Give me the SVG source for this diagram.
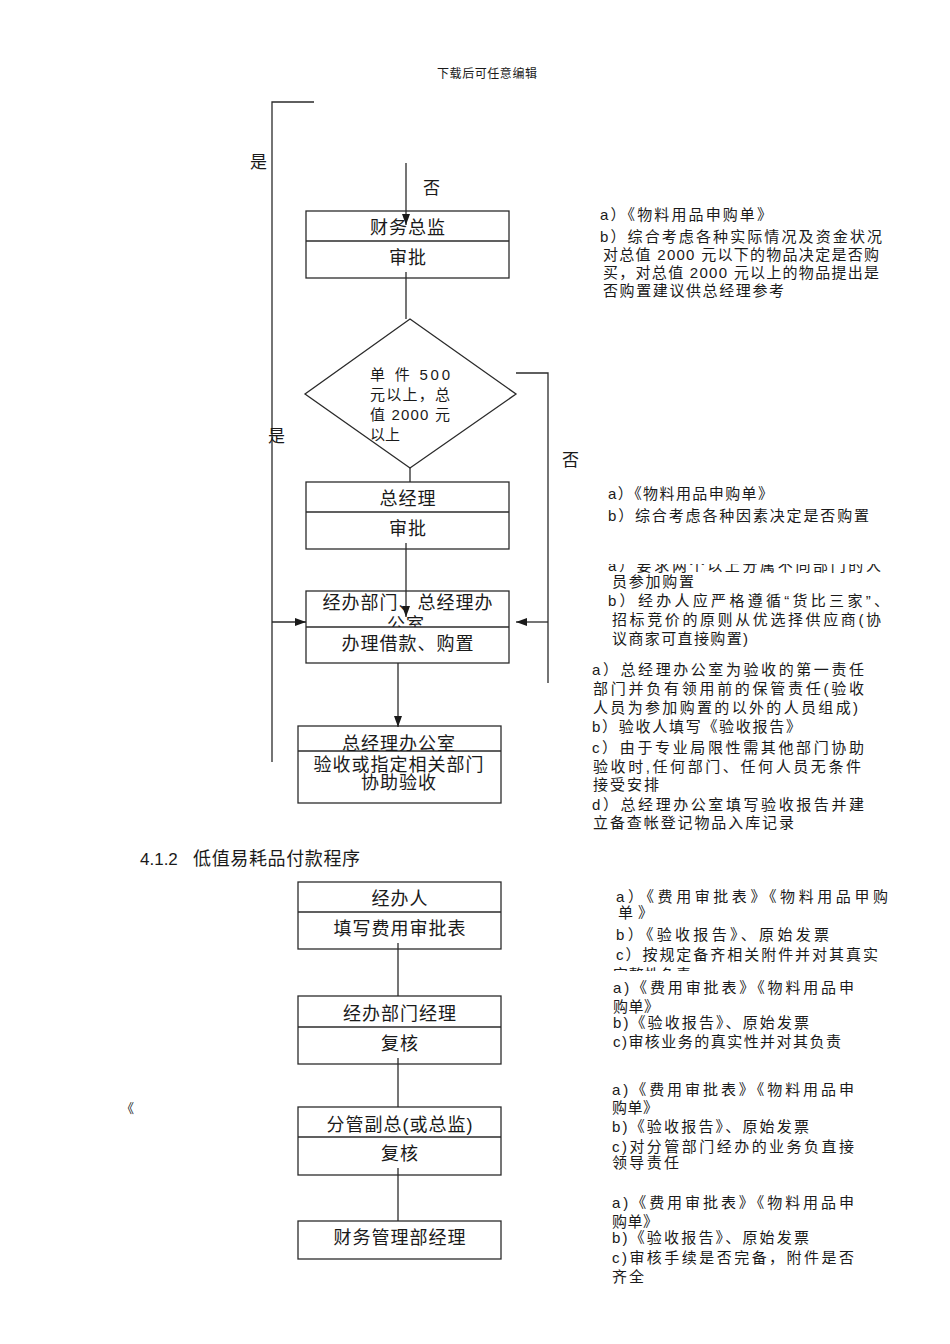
<svg xmlns="http://www.w3.org/2000/svg" width="950" height="1344" viewBox="0 0 950 1344">
<style>
.box{fill:#fff;stroke:#2b2b2b;stroke-width:1.3}
.ln{fill:none;stroke:#2b2b2b;stroke-width:1.3}
text{font-family:"Liberation Sans","Noto Sans CJK SC",sans-serif;fill:#1a1a1a}
.bl{font-size:18px;text-anchor:middle;letter-spacing:1px}
.an{font-size:15px}
.lb{font-size:17px}
</style>
<defs>
<marker id="ah" markerUnits="userSpaceOnUse" markerWidth="11" markerHeight="8" refX="11" refY="4" orient="auto">
<path d="M0,0 L11,4 L0,8 z" fill="#1a1a1a"/>
</marker>
<clipPath id="c3"><rect x="300" y="592" width="215" height="35"/></clipPath>
<clipPath id="c4"><rect x="292" y="727" width="215" height="24"/></clipPath>
<clipPath id="cA"><rect x="590" y="564" width="320" height="30"/></clipPath>
<clipPath id="cE"><rect x="590" y="960" width="320" height="11"/></clipPath>
</defs>
<rect width="950" height="1344" fill="#fff"/>
<text x="437" y="78" font-size="12" textLength="100" lengthAdjust="spacing">下载后可任意编辑</text>

<g id="n-cfo">
<rect class="box" x="306" y="211" width="203" height="67"/>
<line class="ln" x1="306" y1="241" x2="509" y2="241"/>
<text class="bl" x="408" y="234">财务总监</text>
<text class="bl" x="408" y="264">审批</text>
</g>

<g id="n-decision">
<polygon class="box" points="410,319 516,394 410,468 305,394"/>
<text class="an" x="370" y="380" textLength="80" lengthAdjust="spacing">单 件 500</text>
<text class="an" x="370" y="400" textLength="80" lengthAdjust="spacing">元以上，总</text>
<text class="an" x="370" y="420" textLength="80" lengthAdjust="spacing">值 2000 元</text>
<text class="an" x="370" y="440">以上</text>
</g>

<g id="n-gm">
<rect class="box" x="306" y="482" width="203" height="67"/>
<line class="ln" x1="306" y1="512" x2="509" y2="512"/>
<text class="bl" x="408" y="505">总经理</text>
<text class="bl" x="408" y="535">审批</text>
</g>

<g id="n-purchase">
<rect class="box" x="306" y="591" width="203" height="72"/>
<line class="ln" x1="306" y1="627" x2="509" y2="627"/>
<text class="bl" x="408" y="609">经办部门、总经理办</text>
<text class="bl" x="406" y="631" clip-path="url(#c3)">公室</text>
<text class="bl" x="408" y="650">办理借款、购置</text>
</g>

<g id="n-accept">
<rect class="box" x="298" y="726" width="203" height="77"/>
<line class="ln" x1="298" y1="751" x2="501" y2="751"/>
<text class="bl" x="399" y="750" clip-path="url(#c4)">总经理办公室</text>
<text class="bl" x="399" y="771">验收或指定相关部门</text>
<text class="bl" x="399" y="789">协助验收</text>
</g>

<text x="140" y="865" font-size="17">4.1.2<tspan x="193" font-size="18" textLength="167" lengthAdjust="spacing">低值易耗品付款程序</tspan></text>

<g id="n-handler">
<rect class="box" x="298" y="882" width="203" height="67"/>
<line class="ln" x1="298" y1="912" x2="501" y2="912"/>
<text class="bl" x="400" y="905">经办人</text>
<text class="bl" x="400" y="935">填写费用审批表</text>
</g>

<g id="n-deptmgr">
<rect class="box" x="298" y="996" width="203" height="68"/>
<line class="ln" x1="298" y1="1027" x2="501" y2="1027"/>
<text class="bl" x="400" y="1020">经办部门经理</text>
<text class="bl" x="400" y="1050">复核</text>
</g>

<g id="n-vp">
<rect class="box" x="298" y="1107" width="203" height="68"/>
<line class="ln" x1="298" y1="1137" x2="501" y2="1137"/>
<text class="bl" x="400" y="1131">分管副总(或总监)</text>
<text class="bl" x="400" y="1160">复核</text>
</g>

<g id="n-finmgr">
<rect class="box" x="298" y="1221" width="203" height="38"/>
<text class="bl" x="400" y="1244">财务管理部经理</text>
</g>

<text x="121" y="1113" font-size="13">《</text>

<g id="notes-cfo">
<text class="an" x="600" y="220" textLength="172" lengthAdjust="spacing">a）《物料用品申购单》</text>
<text class="an" x="600" y="242" textLength="282" lengthAdjust="spacing">b）综合考虑各种实际情况及资金状况</text>
<text class="an" x="603" y="260" textLength="276" lengthAdjust="spacing">对总值 2000 元以下的物品决定是否购</text>
<text class="an" x="603" y="278" textLength="276" lengthAdjust="spacing">买，对总值 2000 元以上的物品提出是</text>
<text class="an" x="603" y="296" textLength="181" lengthAdjust="spacing">否购置建议供总经理参考</text>
</g>

<g id="notes-gm">
<text class="an" x="608" y="499" textLength="165" lengthAdjust="spacing">a）《物料用品申购单》</text>
<text class="an" x="608" y="521" textLength="261" lengthAdjust="spacing">b）综合考虑各种因素决定是否购置</text>
</g>

<g id="notes-purchase">
<text class="an" x="608" y="571" textLength="273" lengthAdjust="spacing" clip-path="url(#cA)">a）要求两个以上分属不同部门的人</text>
<text class="an" x="612" y="587" textLength="82" lengthAdjust="spacing">员参加购置</text>
<text class="an" x="608" y="606" textLength="281" lengthAdjust="spacing">b）经办人应严格遵循“货比三家”、</text>
<text class="an" x="612" y="625" textLength="269" lengthAdjust="spacing">招标竞价的原则从优选择供应商(协</text>
<text class="an" x="612" y="644" textLength="136" lengthAdjust="spacing">议商家可直接购置)</text>
</g>

<g id="notes-accept">
<text class="an" x="592" y="675" textLength="272" lengthAdjust="spacing">a）总经理办公室为验收的第一责任</text>
<text class="an" x="593" y="694" textLength="271" lengthAdjust="spacing">部门并负有领用前的保管责任(验收</text>
<text class="an" x="593" y="713" textLength="265" lengthAdjust="spacing">人员为参加购置的以外的人员组成)</text>
<text class="an" x="592" y="732" textLength="209" lengthAdjust="spacing">b）验收人填写《验收报告》</text>
<text class="an" x="592" y="753" textLength="272" lengthAdjust="spacing">c）由于专业局限性需其他部门协助</text>
<text class="an" x="593" y="772" textLength="268" lengthAdjust="spacing">验收时,任何部门、任何人员无条件</text>
<text class="an" x="593" y="790" textLength="66" lengthAdjust="spacing">接受安排</text>
<text class="an" x="592" y="810" textLength="272" lengthAdjust="spacing">d）总经理办公室填写验收报告并建</text>
<text class="an" x="593" y="828" textLength="201" lengthAdjust="spacing">立备查帐登记物品入库记录</text>
</g>

<g id="notes-handler">
<text class="an" x="616" y="902" textLength="272" lengthAdjust="spacing">a）《费用审批表》《物料用品甲购</text>
<text class="an" x="618" y="918" textLength="35" lengthAdjust="spacing">单》</text>
<text class="an" x="616" y="940" textLength="213" lengthAdjust="spacing">b）《验收报告》、原始发票</text>
<text class="an" x="616" y="960" textLength="262" lengthAdjust="spacing">c）按规定备齐相关附件并对其真实</text>
<text class="an" x="613" y="980" textLength="78" lengthAdjust="spacing" clip-path="url(#cE)">完整性负责</text>
</g>

<g id="notes-deptmgr">
<text class="an" x="613" y="993" textLength="241" lengthAdjust="spacing">a)《费用审批表》《物料用品申</text>
<text class="an" x="613" y="1012" textLength="46" lengthAdjust="spacing">购单》</text>
<text class="an" x="613" y="1028" textLength="196" lengthAdjust="spacing">b)《验收报告》、原始发票</text>
<text class="an" x="613" y="1047" textLength="228" lengthAdjust="spacing">c)审核业务的真实性并对其负责</text>
</g>

<g id="notes-vp">
<text class="an" x="612" y="1095" textLength="242" lengthAdjust="spacing">a)《费用审批表》《物料用品申</text>
<text class="an" x="612" y="1113" textLength="46" lengthAdjust="spacing">购单》</text>
<text class="an" x="612" y="1132" textLength="197" lengthAdjust="spacing">b)《验收报告》、原始发票</text>
<text class="an" x="612" y="1152" textLength="242" lengthAdjust="spacing">c)对分管部门经办的业务负直接</text>
<text class="an" x="612" y="1168" textLength="67" lengthAdjust="spacing">领导责任</text>
</g>

<g id="notes-finmgr">
<text class="an" x="612" y="1208" textLength="242" lengthAdjust="spacing">a)《费用审批表》《物料用品申</text>
<text class="an" x="612" y="1227" textLength="46" lengthAdjust="spacing">购单》</text>
<text class="an" x="612" y="1243" textLength="197" lengthAdjust="spacing">b)《验收报告》、原始发票</text>
<text class="an" x="612" y="1263" textLength="242" lengthAdjust="spacing">c)审核手续是否完备，附件是否</text>
<text class="an" x="612" y="1282" textLength="32" lengthAdjust="spacing">齐全</text>
</g>

<g id="connectors">
<polyline class="ln" points="314,102 272,102 272,762"/>
<line class="ln" x1="272" y1="622" x2="306" y2="622" marker-end="url(#ah)"/>
<line class="ln" x1="406" y1="163" x2="406" y2="225" marker-end="url(#ah)"/>
<line class="ln" x1="406" y1="272" x2="406" y2="319"/>
<line class="ln" x1="410" y1="468" x2="410" y2="482"/>
<polyline class="ln" points="516,373 548,373 548,683"/>
<line class="ln" x1="548" y1="622" x2="516" y2="622" marker-end="url(#ah)"/>
<line class="ln" x1="406" y1="543" x2="406" y2="617" marker-end="url(#ah)"/>
<line class="ln" x1="398" y1="663" x2="398" y2="727" marker-end="url(#ah)"/>
<line class="ln" x1="398" y1="943" x2="398" y2="996"/>
<line class="ln" x1="398" y1="1058" x2="398" y2="1107"/>
<line class="ln" x1="398" y1="1168" x2="398" y2="1221"/>
<text class="lb" x="250" y="168">是</text>
<text class="lb" x="423" y="194">否</text>
<text class="lb" x="268" y="442">是</text>
<text class="lb" x="562" y="466">否</text>
</g>
</svg>
